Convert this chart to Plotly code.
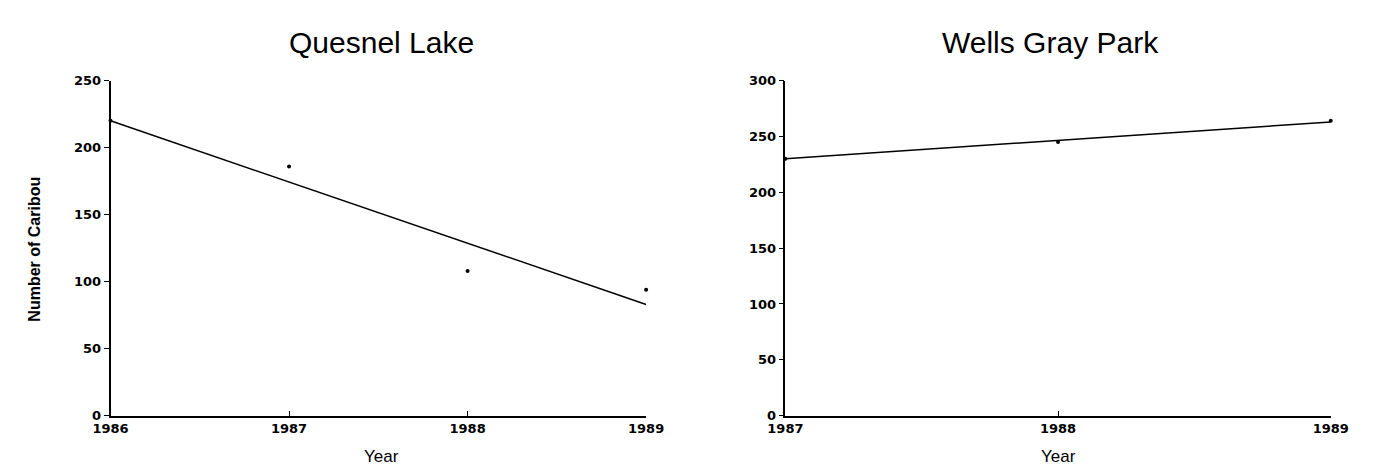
import plotly.graph_objects as go

# Quesnel Lake data
ql_years = [1986, 1987, 1988, 1989]
ql_counts = [220, 186, 108, 94]
ql_trend_years = [1986, 1989]
ql_trend_vals = [220, 83]

# Wells Gray Park data
wg_years = [1987, 1988, 1989]
wg_counts = [230, 245, 264]
wg_trend_years = [1987, 1989]
wg_trend_vals = [230, 263]

titles = ["Quesnel Lake", "Wells Gray Park"]
ql_ticks = [1986, 1987, 1988, 1989]
wg_ticks = [1987, 1988, 1989]

fig = go.Figure()

fig.add_trace(go.Scatter(x=ql_trend_years, y=ql_trend_vals, mode="lines",
                         line=dict(color="black", width=1.5), xaxis="x", yaxis="y",
                         showlegend=False, cliponaxis=False))
fig.add_trace(go.Scatter(x=ql_years, y=ql_counts, mode="markers",
                         marker=dict(color="black", size=4), xaxis="x", yaxis="y",
                         showlegend=False, cliponaxis=False))
fig.add_trace(go.Scatter(x=wg_trend_years, y=wg_trend_vals, mode="lines",
                         line=dict(color="black", width=1.5), xaxis="x2", yaxis="y2",
                         showlegend=False, cliponaxis=False))
fig.add_trace(go.Scatter(x=wg_years, y=wg_counts, mode="markers",
                         marker=dict(color="black", size=4), xaxis="x2", yaxis="y2",
                         showlegend=False, cliponaxis=False))

W, H = 1376, 475
ydom = [1 - 422 / H, 1 - 76 / H]
tickfont = dict(family="DejaVu Sans", size=13, color="black", weight="bold")
axis_common = dict(showgrid=False, zeroline=False, showline=True, linecolor="black",
                   linewidth=1.5, ticklen=5, tickcolor="black", tickwidth=1.2,
                   tickfont=tickfont)

fig.update_layout(
    width=W, height=H,
    margin=dict(l=0, r=0, t=0, b=0),
    plot_bgcolor="white", paper_bgcolor="white",
    font=dict(family="Liberation Sans", color="black"),
    xaxis=dict(domain=[95 / W, 645 / W], range=[1986, 1989], tickvals=ql_ticks,
               ticktext=[str(t) for t in ql_ticks], ticks="inside", anchor="y",
               **axis_common),
    yaxis=dict(domain=ydom, range=[0, 250], tickvals=[0, 50, 100, 150, 200, 250],
               ticks="outside", anchor="x", **axis_common),
    xaxis2=dict(domain=[788 / W, 1348 / W], range=[1987, 1989], tickvals=wg_ticks,
                ticktext=[str(t) for t in wg_ticks], ticks="inside", anchor="y2",
                **axis_common),
    yaxis2=dict(domain=ydom, range=[0, 300], tickvals=[0, 50, 100, 150, 200, 250, 300],
                ticks="outside", anchor="x2", **axis_common),
    annotations=[
        dict(text=titles[0], x=373 / W, y=1 - 37 / H, xref="paper", yref="paper",
             showarrow=False, font=dict(size=30), xanchor="center", yanchor="middle"),
        dict(text=titles[1], x=1060 / W, y=1 - 37 / H, xref="paper", yref="paper",
             showarrow=False, font=dict(size=30), xanchor="center", yanchor="middle"),
        dict(text="Year", x=373 / W, y=1 - 464 / H, xref="paper", yref="paper",
             showarrow=False, font=dict(size=17), xanchor="center", yanchor="middle"),
        dict(text="Year", x=1068 / W, y=1 - 464 / H, xref="paper", yref="paper",
             showarrow=False, font=dict(size=17), xanchor="center", yanchor="middle"),
        dict(text="Number of Caribou", x=17 / W, y=1 - 250 / H, xref="paper", yref="paper",
             showarrow=False, textangle=-90, font=dict(size=16, weight="bold"),
             xanchor="center", yanchor="middle"),
    ],
)

fig.write_html("out.html", config={"displayModeBar": False},
               post_script="document.body.style.margin='0';")
